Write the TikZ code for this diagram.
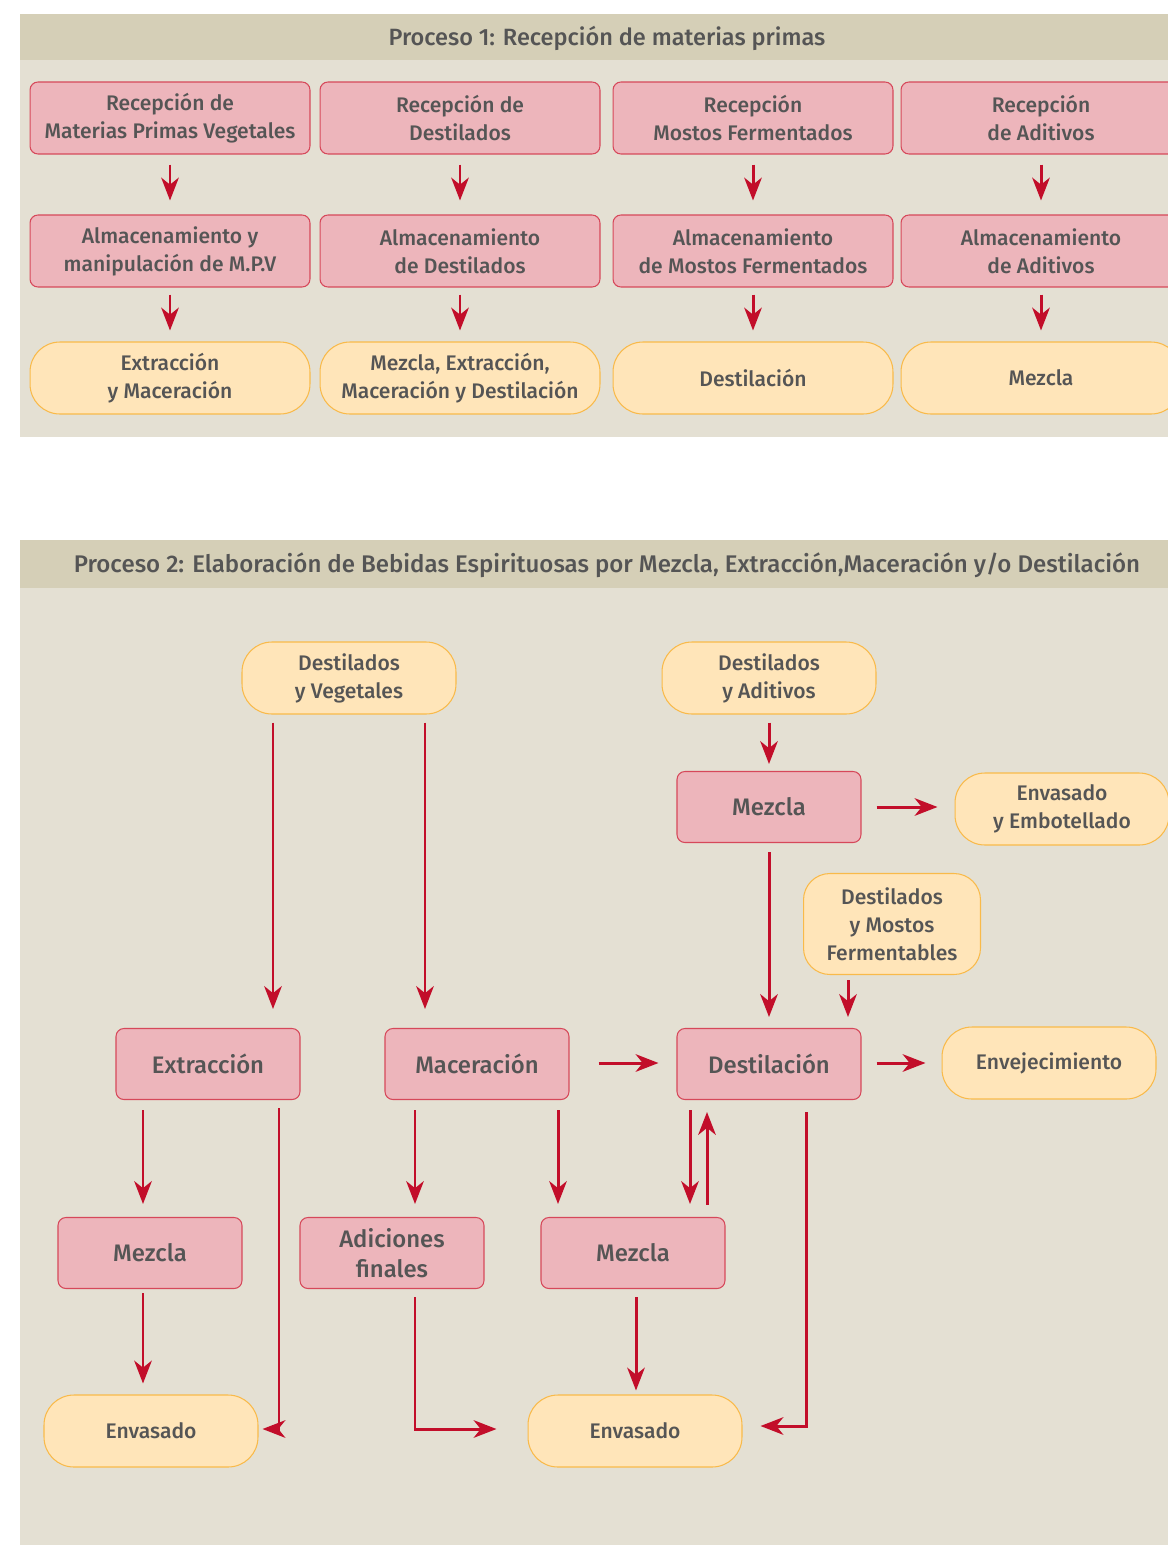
\documentclass[tikz,border=0pt]{standalone}
\usepackage{fontspec}
\setmainfont{Fira Sans}[UprightFont=* Medium]
\usepackage{tikz}
\usetikzlibrary{arrows.meta}
\usetikzlibrary{calc}
\definecolor{panelbg}{HTML}{E4E0D3}
\definecolor{headbg}{HTML}{D5CFB7}
\definecolor{boxpink}{HTML}{EDB5BB}
\definecolor{boxred}{HTML}{D6485A}
\definecolor{boxyellow}{HTML}{FFE5B9}
\definecolor{boxorange}{HTML}{F9BA4A}
\definecolor{arrred}{HTML}{C20E2A}
\definecolor{txtgray}{HTML}{555555}

\tikzset{
  pbox/.style={draw=boxred, fill=boxpink, line width=0.6pt, rounded corners=4.5pt,
    text=txtgray, align=center, inner sep=0pt,
    minimum width=5.6cm, minimum height=1.44cm, font=\fontsize{12}{16}\selectfont},
  ybox/.style={pbox, draw=boxorange, fill=boxyellow, rounded corners=17pt},
  pbox2/.style={pbox, minimum width=3.68cm, minimum height=1.42cm,
    font=\fontsize{13.6}{17}\selectfont},
  ybox2/.style={ybox, minimum width=4.28cm, minimum height=1.44cm},
  arr/.style={->, draw=arrred, line width=1.7pt},
  headtxt/.style={text=txtgray, font=\fontsize{13.4}{16}\selectfont}
}

\begin{document}
\begin{tikzpicture}[x=0.02cm, y=-0.02cm, >={Stealth[length=13pt,width=10pt,inset=4pt]}]
  \useasboundingbox (0,0) rectangle (1168,1545);

  % panel 1
  \fill[panelbg] (20,14) rectangle (1170,437);
  \fill[headbg]  (20,14) rectangle (1170,60);
  \node[headtxt] (t1) at (607,38) {Proceso 1: Recepción de materias primas};

  \node[pbox] (r1) at (170,118) {Recepción de\\Materias Primas Vegetales};
  \node[pbox] (r2) at (460,118) {Recepción de\\Destilados};
  \node[pbox] (r3) at (753,118) {Recepción\\Mostos Fermentados};
  \node[pbox] (r4) at (1041,118) {Recepción\\de Aditivos};

  \node[pbox] (a1) at (170,251) {Almacenamiento y\\manipulación de M.P.V};
  \node[pbox] (a2) at (460,251) {Almacenamiento\\de Destilados};
  \node[pbox] (a3) at (753,251) {Almacenamiento\\de Mostos Fermentados};
  \node[pbox] (a4) at (1041,251) {Almacenamiento\\de Aditivos};

  \node[ybox] (p1) at (170,378) {Extracción\\y Maceración};
  \node[ybox] (p2) at (460,378) {Mezcla, Extracción,\\Maceración y Destilación};
  \node[ybox] (p3) at (753,378) {Destilación};
  \node[ybox] (p4) at (1041,378) {Mezcla};

  \foreach \i in {1,...,4} {
    \draw[arr] ($(r\i.south)+(0,10)$) -- ($(a\i.north)+(0,-14)$);
    \draw[arr] ($(a\i.south)+(0,7)$) -- ($(p\i.north)+(0,-11)$);
  }

  % panel 2
  \fill[panelbg] (20,540) rectangle (1170,1545);
  \fill[headbg]  (20,540) rectangle (1170,588);
  \node[headtxt, font=\fontsize{13.7}{16}\selectfont] (t2) at (607,565) {Proceso 2: Elaboración de Bebidas Espirituosas por Mezcla, Extracción,Maceración y/o Destilación};

  \node[ybox2] (dv) at (349,678) {Destilados\\y Vegetales};
  \node[ybox2] (da) at (769,678) {Destilados\\y Aditivos};
  \node[pbox2] (mz) at (769,807) {Mezcla};
  \node[ybox2] (ee) at (1062,809) {Envasado\\y Embotellado};
  \node[ybox, minimum width=3.54cm, minimum height=2.02cm, rounded corners=15pt] (dm) at (892,924) {Destilados\\y Mostos\\Fermentables};

  \node[pbox2] (ext) at (208,1064) {Extracción};
  \node[pbox2] (mac) at (477,1064) {Maceración};
  \node[pbox2] (des) at (769,1064) {Destilación};
  \node[ybox2] (env) at (1049,1063) {Envejecimiento};

  \node[pbox2] (mzA) at (150,1253) {Mezcla};
  \node[pbox2] (adi) at (392,1253) {Adiciones\\finales};
  \node[pbox2] (mzB) at (633,1253) {Mezcla};

  \node[ybox2] (envA) at (151,1431) {Envasado};
  \node[ybox2] (envB) at (635,1431) {Envasado};

  % connectors
  \draw[arr] ($(dv.south)+(-76,8)$) -- ($(ext.north)+(65,-19)$);
  \draw[arr] ($(dv.south)+(76,8)$) -- ($(mac.north)+(-52,-19)$);
  \draw[arr] ($(da.south)+(0,8)$) -- ($(mz.north)+(0,-7)$);
  \draw[arr] ($(mz.east)+(15,0)$) -- ($(ee.west)+(-17,-2)$);
  \draw[arr] ($(mz.south)+(0,9)$) -- ($(des.north)+(0,-11)$);
  \draw[arr] ($(dm.south)+(-44,5)$) -- ($(des.north)+(79,-11)$);
  \draw[arr] ($(mac.east)+(29,-1)$) -- ($(des.west)+(-18,-1)$);
  \draw[arr] ($(des.east)+(15,-1)$) -- ($(env.west)+(-16,0)$);

  \draw[arr] ($(ext.south)+(-65,10)$) -- ($(mzA.north)+(-7,-13)$);
  \draw[arr] ($(ext.south)+(71,8)$) |- ($(envA.east)+(4,-2)$);
  \draw[arr] ($(mzA.south)+(-7,4)$) -- ($(envA.north)+(-8,-11)$);

  \draw[arr] ($(mac.south)+(-62,10)$) -- ($(adi.north)+(23,-13)$);
  \draw[arr] ($(mac.south)+(81,10)$) -- ($(mzB.north)+(-75,-13)$);
  \draw[arr] ($(adi.south)+(23,8)$) |- ($(envB.west)+(-31,-2)$);
  \draw[arr] ($(mzB.south)+(3,8)$) -- ($(envB.north)+(1,-4)$);

  \draw[arr] ($(des.south)+(-79,10)$) -- ($(mzB.north)+(57,-13)$);
  \draw[arr] ($(mzB.north)+(74,-12)$) -- ($(des.south)+(-62,12)$);
  \draw[arr] ($(des.south)+(37,12)$) |- ($(envB.east)+(18,-5)$);
\end{tikzpicture}
\end{document}
